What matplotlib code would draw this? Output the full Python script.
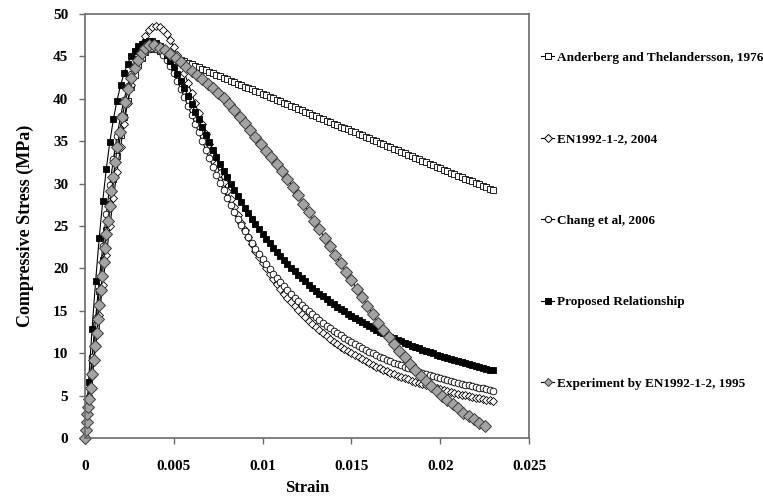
import numpy as np
import matplotlib
matplotlib.use("Agg")
import matplotlib.pyplot as plt
from matplotlib.lines import Line2D

plt.rcParams['font.family'] = ['Liberation Serif', 'DejaVu Serif']
plt.rcParams['font.weight'] = 'bold'

# ---------------- data ----------------
# strain grid for the model curves, in units of 1e-4
strain_e4 = [0, 2, 4, 6, 8, 10, 12, 14, 16, 18,
             20, 22, 24, 26, 28, 30, 32, 34, 36, 38,
             40, 42, 44, 46, 48, 50, 52, 54, 56, 58,
             60, 62, 64, 66, 68, 70, 72, 74, 76, 78,
             80, 82, 84, 86, 88, 90, 92, 94, 96, 98,
             100, 102, 104, 106, 108, 110, 112, 114, 116, 118,
             120, 122, 124, 126, 128, 130, 132, 134, 136, 138,
             140, 142, 144, 146, 148, 150, 152, 154, 156, 158,
             160, 162, 164, 166, 168, 170, 172, 174, 176, 178,
             180, 182, 184, 186, 188, 190, 192, 194, 196, 198,
             200, 202, 204, 206, 208, 210, 212, 214, 216, 218,
             220, 222, 224, 226, 228, 230]

anderberg = [0, 4.71, 9.17, 13.38, 17.33, 21.02, 24.47, 27.65, 30.58, 33.26,
             35.68, 37.84, 39.76, 41.41, 42.81, 43.96, 44.85, 45.49, 45.87, 46.00,
             45.83, 45.65, 45.48, 45.30, 45.13, 44.95, 44.78, 44.60, 44.43, 44.25,
             44.08, 43.90, 43.73, 43.55, 43.38, 43.20, 43.03, 42.85, 42.68, 42.50,
             42.33, 42.15, 41.98, 41.80, 41.63, 41.45, 41.28, 41.10, 40.93, 40.75,
             40.58, 40.40, 40.23, 40.05, 39.88, 39.70, 39.53, 39.35, 39.18, 39.00,
             38.83, 38.65, 38.48, 38.30, 38.13, 37.95, 37.78, 37.60, 37.43, 37.25,
             37.08, 36.90, 36.73, 36.55, 36.38, 36.20, 36.03, 35.85, 35.68, 35.50,
             35.33, 35.15, 34.98, 34.80, 34.63, 34.45, 34.28, 34.10, 33.93, 33.75,
             33.58, 33.40, 33.23, 33.05, 32.88, 32.70, 32.53, 32.35, 32.18, 32.00,
             31.83, 31.65, 31.48, 31.30, 31.13, 30.95, 30.78, 30.60, 30.43, 30.25,
             30.08, 29.90, 29.73, 29.55, 29.38, 29.20]

en2004 = [0, 3.64, 7.29, 10.92, 14.52, 18.08, 21.58, 24.98, 28.26, 31.38,
          34.31, 37.02, 39.48, 41.66, 43.56, 45.15, 46.43, 47.41, 48.08, 48.47,
          48.60, 48.48, 48.15, 47.62, 46.93, 46.10, 45.16, 44.13, 43.03, 41.87,
          40.69, 39.48, 38.27, 37.06, 35.85, 34.67, 33.51, 32.37, 31.27, 30.20,
          29.16, 28.16, 27.19, 26.26, 25.36, 24.50, 23.67, 22.88, 22.11, 21.38,
          20.68, 20.01, 19.36, 18.75, 18.16, 17.59, 17.04, 16.52, 16.02, 15.54,
          15.08, 14.64, 14.22, 13.81, 13.42, 13.04, 12.68, 12.34, 12.00, 11.68,
          11.37, 11.07, 10.79, 10.51, 10.25, 9.99, 9.74, 9.50, 9.27, 9.05,
          8.84, 8.63, 8.43, 8.24, 8.05, 7.87, 7.69, 7.52, 7.36, 7.20,
          7.05, 6.90, 6.75, 6.61, 6.48, 6.34, 6.22, 6.09, 5.97, 5.85,
          5.74, 5.63, 5.52, 5.42, 5.32, 5.22, 5.12, 5.03, 4.94, 4.85,
          4.76, 4.68, 4.60, 4.52, 4.44, 4.36]

chang2006 = [0, 4.83, 9.58, 14.17, 18.55, 22.64, 26.42, 29.84, 32.90, 35.59,
             37.92, 39.89, 41.54, 42.88, 43.94, 44.74, 45.33, 45.72, 45.93, 46.00,
             45.89, 45.60, 45.13, 44.53, 43.81, 42.99, 42.10, 41.15, 40.16, 39.14,
             38.11, 37.07, 36.03, 35.00, 33.98, 32.98, 32.00, 31.05, 30.12, 29.21,
             28.34, 27.49, 26.67, 25.88, 25.11, 24.38, 23.67, 22.98, 22.33, 21.69,
             21.08, 20.49, 19.93, 19.38, 18.86, 18.36, 17.87, 17.40, 16.95, 16.52,
             16.10, 15.70, 15.31, 14.93, 14.57, 14.22, 13.89, 13.56, 13.25, 12.95,
             12.65, 12.37, 12.10, 11.83, 11.58, 11.33, 11.09, 10.86, 10.63, 10.41,
             10.20, 10.00, 9.80, 9.61, 9.42, 9.24, 9.06, 8.89, 8.73, 8.56,
             8.41, 8.26, 8.11, 7.96, 7.82, 7.69, 7.55, 7.42, 7.30, 7.18,
             7.06, 6.94, 6.83, 6.72, 6.61, 6.50, 6.40, 6.30, 6.20, 6.11,
             6.02, 5.92, 5.84, 5.75, 5.66, 5.58]

proposed = [0, 6.64, 12.88, 18.55, 23.59, 27.98, 31.74, 34.93, 37.59, 39.78,
            41.57, 43.01, 44.14, 45.03, 45.69, 46.17, 46.50, 46.70, 46.79, 46.78,
            46.59, 46.25, 45.77, 45.19, 44.51, 43.76, 42.95, 42.10, 41.22, 40.32,
            39.40, 38.49, 37.57, 36.66, 35.77, 34.88, 34.01, 33.17, 32.34, 31.53,
            30.74, 29.98, 29.23, 28.51, 27.82, 27.14, 26.48, 25.85, 25.24, 24.64,
            24.07, 23.51, 22.97, 22.45, 21.95, 21.46, 20.99, 20.54, 20.10, 19.67,
            19.26, 18.86, 18.47, 18.09, 17.73, 17.38, 17.04, 16.71, 16.39, 16.07,
            15.77, 15.48, 15.19, 14.92, 14.65, 14.39, 14.14, 13.89, 13.65, 13.42,
            13.19, 12.97, 12.75, 12.55, 12.34, 12.14, 11.95, 11.76, 11.58, 11.40,
            11.23, 11.06, 10.89, 10.73, 10.57, 10.42, 10.27, 10.12, 9.98, 9.84,
            9.70, 9.57, 9.44, 9.31, 9.18, 9.06, 8.94, 8.83, 8.71, 8.60,
            8.49, 8.38, 8.28, 8.17, 8.07, 7.97]

# experiment points (strain in units of 1e-4)
exp_strain_e4 = [0, 0.5, 1.0, 1.4, 1.8, 2.4, 3.3, 4.1, 5.0, 5.8,
                 6.5, 7.3, 8.1, 8.9, 9.7, 10.5, 11.3, 12.1, 13.0, 13.9,
                 14.9, 15.9, 17.0, 18.2, 19.5, 21.0, 22.6, 24.3, 26.0, 28.0,
                 30.0, 32.0, 34.0, 36.0,
                 39, 42, 45, 48, 51, 54, 57, 60, 63, 66,
                 69, 72, 75, 78, 81, 84, 87, 90, 93, 96,
                 99, 102, 105, 108, 111, 114, 117, 120, 123, 126,
                 129, 132, 135, 138, 141, 144, 147, 150, 153, 156,
                 159, 162, 165, 168, 171, 174, 177, 180, 183, 186,
                 189, 192, 195, 198, 201, 204, 207, 210, 213, 216,
                 219, 222, 225]
exp_stress = [0, 1.0, 1.9, 2.8, 3.7, 4.6, 5.9, 7.5, 9.2, 10.8,
              12.4, 14.0, 15.7, 17.4, 19.1, 20.8, 22.4, 24.0, 25.6, 27.3,
              29.1, 30.8, 32.5, 34.3, 36.1, 37.9, 39.6, 41.1, 42.4, 43.6,
              44.6, 45.4, 46.0, 46.4,
              46.3, 46.0, 45.7, 45.3, 44.8, 44.3, 43.8, 43.3, 42.8, 42.3,
              41.8, 41.3, 40.7, 40.1, 39.4, 38.7, 37.9, 37.1, 36.3, 35.5,
              34.7, 33.9, 33.1, 32.3, 31.5, 30.6, 29.6, 28.6, 27.6, 26.6,
              25.6, 24.6, 23.6, 22.6, 21.6, 20.6, 19.6, 18.6, 17.6, 16.6,
              15.6, 14.6, 13.6, 12.7, 11.9, 11.1, 10.3, 9.5, 8.7, 8.0,
              7.3, 6.7, 6.1, 5.5, 5.0, 4.5, 4.0, 3.5, 3.0, 2.6,
              2.2, 1.8, 1.4]

labels = ["Anderberg and Thelandersson, 1976",
          "EN1992-1-2, 2004",
          "Chang et al, 2006",
          "Proposed Relationship",
          "Experiment by EN1992-1-2, 1995"]

x_ticks = [0, 0.005, 0.01, 0.015, 0.02, 0.025]
x_tick_labels = ["0", "0.005", "0.01", "0.015", "0.02", "0.025"]
y_ticks = [0, 5, 10, 15, 20, 25, 30, 35, 40, 45, 50]

# ---------------- plotting ----------------
W, H = 763, 496
fig = plt.figure(figsize=(W / 100, H / 100), dpi=100)
ax = fig.add_axes([85 / W, 1 - 438 / H, 444 / W, 424 / H])

strain = np.array(strain_e4) * 1e-4
exp_strain = np.array(exp_strain_e4) * 1e-4

styles = [
    dict(marker='s', ms=4.6, mfc='white', mec='black', mew=0.6),
    dict(marker='D', ms=4.3, mfc='white', mec='black', mew=0.6),
    dict(marker='o', ms=4.8, mfc='white', mec='black', mew=0.6),
    dict(marker='s', ms=4.8, mfc='black', mec='black', mew=0.6),
    dict(marker='D', ms=6.0, mfc='#a3a3a3', mec='#3c3c3c', mew=0.7),
]
series = [(strain, anderberg), (strain, en2004), (strain, chang2006),
          (strain, proposed), (exp_strain, exp_stress)]

for (xs, ys), st, lab in zip(series, styles, labels):
    ax.plot(xs, ys, color='black', lw=0.8, label=lab, clip_on=False, **st)

ax.set_xlim(0, 0.025)
ax.set_ylim(0, 50)
ax.set_xticks(x_ticks)
ax.set_xticklabels(x_tick_labels)
ax.set_yticks(y_ticks)

for sp in ax.spines.values():
    sp.set_color('#6a6a6a')
    sp.set_linewidth(1.2)

ax.tick_params(axis='both', direction='out', length=4, width=1, color='#6a6a6a',
               labelsize=11)
ax.tick_params(axis='x', pad=12)
ax.tick_params(axis='y', pad=8)
for t in ax.get_xticklabels() + ax.get_yticklabels():
    t.set_fontweight('bold')

ax.set_xlabel("Strain", fontsize=12, fontweight='bold', labelpad=5)
ax.set_ylabel("Compressive Stress (MPa)", fontsize=13, fontweight='bold', labelpad=14)

# legend on the right
handles = []
for st in styles:
    s = dict(st)
    s['ms'] = 4.5
    s['mew'] = 0.7
    handles.append(Line2D([0], [0], color='black', lw=0.8, **s))
leg = fig.legend(handles, labels, loc='upper left',
                 bbox_to_anchor=(541 / W, 1 - 51.5 / H),
                 frameon=False, fontsize=9.5, labelspacing=5.25,
                 handlelength=1.0, handletextpad=0.25, borderpad=0,
                 borderaxespad=0)
for t in leg.get_texts():
    t.set_fontweight('bold')

fig.savefig("out.png", dpi=100)
